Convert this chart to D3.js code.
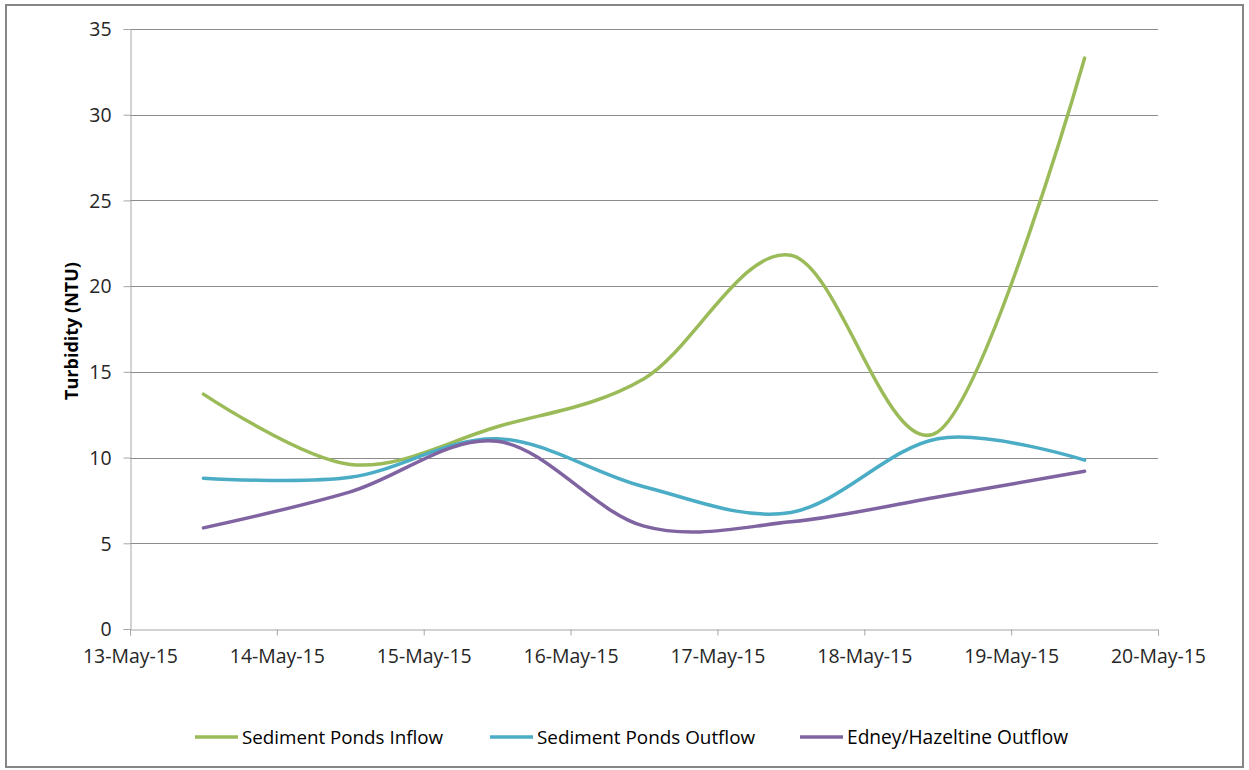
<!DOCTYPE html>
<html><head><meta charset="utf-8">
<script src="https://cdn.jsdelivr.net/npm/d3@7"></script>
<style>body{margin:0;background:#fff}svg{display:block}</style>
</head><body>
<svg id="c" width="1249" height="770"></svg>
<script>
const dates = ["2015-05-13T12:00","2015-05-14T12:00","2015-05-15T12:00","2015-05-16T12:00","2015-05-17T12:00","2015-05-18T12:00","2015-05-19T12:00"];
const inflow = [13.7, 9.6, 11.8, 14.6, 21.8, 11.5, 33.3];
const pondsOutflow = [8.8, 8.85, 11.1, 8.3, 6.8, 11.1, 9.85];
const edneyOutflow = [5.9, 8.0, 10.95, 6.0, 6.25, 7.7, 9.2];
const seriesNames = ["Sediment Ponds Inflow","Sediment Ponds Outflow","Edney/Hazeltine Outflow"];
const seriesColors = ["#9BBB59","#4BACC6","#8064A2"];
const yTicks = [0,5,10,15,20,25,30,35];
const xTickDates = ["2015-05-13","2015-05-14","2015-05-15","2015-05-16","2015-05-17","2015-05-18","2015-05-19","2015-05-20"];

const svg = d3.select("#c");
const font = "'Open Sans', Lato, sans-serif";
svg.append("rect").attr("x",6).attr("y",5).attr("width",1237).attr("height",762)
  .attr("fill","#fff").attr("stroke","#868686").attr("stroke-width",2);

function fitSize(sel, w){
  const n = sel.node(); const fs = parseFloat(sel.attr("font-size"));
  const cur = n.getComputedTextLength();
  return cur>0 ? fs*w/cur : fs;
}

const L=130,R=1158,T=29,B=629;
const parse = d3.timeParse("%Y-%m-%dT%H:%M");
const parseD = d3.timeParse("%Y-%m-%d");
const x = d3.scaleTime().domain([parseD(xTickDates[0]), parseD(xTickDates[xTickDates.length-1])]).range([L,R]);
const y = d3.scaleLinear().domain([0,35]).range([B,T]);

svg.append("g").selectAll("line").data(yTicks.filter(d=>d>0)).join("line")
  .attr("x1",L).attr("x2",R).attr("y1",d=>Math.round(y(d))+0.5).attr("y2",d=>Math.round(y(d))+0.5)
  .attr("stroke","#8c8c8c").attr("stroke-width",1);

const yAxis = svg.append("g").attr("transform",`translate(${L+0.5},0)`)
  .call(d3.axisLeft(y).tickValues(yTicks).tickSize(7).tickPadding(12));
const xAxis = svg.append("g").attr("transform",`translate(0,${B+0.5})`)
  .call(d3.axisBottom(x).tickValues(xTickDates.map(parseD)).tickSize(6).tickPadding(14)
    .tickFormat(d3.timeFormat("%-d-%b-%y")));
[yAxis,xAxis].forEach(a=>{
  a.select(".domain").attr("stroke","#a6a6a6");
  a.selectAll(".tick line").attr("stroke","#a6a6a6");
  a.selectAll("text").attr("font-family",font).attr("font-size",18).attr("fill","#262626");
});
yAxis.selectAll(".tick text").attr("dy","0.35em");

const title = svg.append("text").attr("transform",`translate(78,${(T+B)/2+2}) rotate(-90)`)
  .attr("text-anchor","middle").attr("font-family",font).attr("font-weight","bold")
  .attr("font-size",18).attr("fill","#000").text("Turbidity (NTU)");

const all = [inflow,pondsOutflow,edneyOutflow];
const line = d3.line().x((d,i)=>x(parse(dates[i]))).y(d=>y(d)).curve(d3.curveCardinal.tension(0));
all.forEach((s,k)=>{
  svg.append("path").datum(s).attr("d",line).attr("fill","none")
    .attr("stroke",seriesColors[k]).attr("stroke-width",3.5).attr("stroke-linecap","round");
});

const legX = [195,490,800];
const legW = [201,218,221];
const legTexts = [];
seriesNames.forEach((n,k)=>{
  const g = svg.append("g").attr("transform",`translate(${legX[k]},737)`);
  g.append("line").attr("x1",0).attr("x2",43).attr("y1",0).attr("y2",0)
    .attr("stroke",seriesColors[k]).attr("stroke-width",3.5);
  legTexts.push(g.append("text").attr("x",47).attr("y",0).attr("dy","0.35em").attr("font-family",font)
    .attr("font-size",18).attr("fill","#000").text(n));
});

function doFit(){
  title.attr("font-size", fitSize(title,138));
  legTexts.forEach((t,k)=>t.attr("font-size", fitSize(t, legW[k])));
  const ref = xAxis.selectAll(".tick text").filter((d,i)=>i===4);
  const fs = fitSize(ref, 95);
  xAxis.selectAll(".tick text").attr("font-size", fs);
  yAxis.selectAll(".tick text").attr("font-size", fs);
}
doFit();
if (document.fonts && document.fonts.ready) document.fonts.ready.then(doFit);
</script>
</body></html>
